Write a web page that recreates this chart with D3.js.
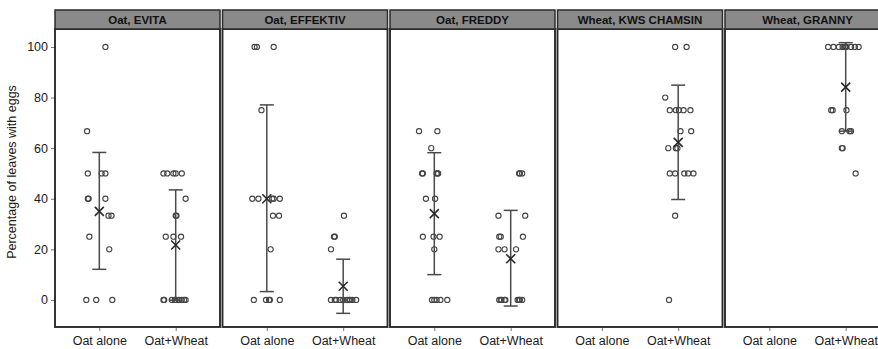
<!DOCTYPE html>
<html>
<head>
<meta charset="utf-8">
<script src="https://cdn.jsdelivr.net/npm/d3@7"></script>
<style>
  body { margin: 0; background: #fff; }
  svg { font-family: 'Liberation Sans', Arial, sans-serif; }
</style>
</head>
<body>
<div id="chart"></div>
<script>
// facet titles and groups
const panels = ['Oat, EVITA', 'Oat, EFFEKTIV', 'Oat, FREDDY', 'Wheat, KWS CHAMSIN', 'Wheat, GRANNY'];
const groups = ['Oat alone', 'Oat+Wheat'];
const yTicks = [0, 20, 40, 60, 80, 100];

// raw points: [value, jitter (fraction of category step)]
const evitaAlone = [[100, 0.08], [66.7, -0.16], [50, -0.15], [50, 0.03], [50, 0.08], [40, -0.15], [40, -0.14], [40, 0.08],
  [33.3, 0.12], [33.3, 0.16], [25, -0.13], [20, 0.13], [0, -0.17], [0, -0.04], [0, 0.17]];
const evitaMixed = [[50, -0.16], [50, -0.11], [50, -0.03], [50, 0], [50, 0.08], [40, 0.13], [33.3, 0], [33.3, 0.01],
  [25, -0.13], [25, -0.03], [25, 0.07], [0, -0.16], [0, -0.15], [0, -0.05], [0, -0.01], [0, 0], [0, 0.04], [0, 0.08],
  [0, 0.11], [0, 0.13]];
const effektivAlone = [[100, -0.16], [100, -0.13], [100, 0.09], [75, -0.07], [40, -0.19], [40, -0.11], [40, 0.07],
  [40, 0.09], [40, 0.17], [33.3, 0.08], [33.3, 0.16], [20, 0.05], [0, -0.17], [0, -0.01], [0, 0.03], [0, 0.04], [0, 0.17]];
const effektivMixed = [[33.3, 0.01], [25, -0.12], [25, -0.11], [20, -0.16], [0, -0.16], [0, -0.11], [0, -0.09],
  [0, -0.04], [0, 0], [0, 0.05], [0, 0.08], [0, 0.09], [0, 0.12], [0, 0.17]];
const freddyAlone = [[66.7, -0.2], [66.7, 0.04], [60, -0.04], [50, -0.16], [50, -0.15], [50, 0.03], [50, 0.04], [50, 0.05],
  [40, -0.11], [40, 0.01], [25, -0.15], [25, -0.01], [25, 0.07], [20, 0], [0, -0.03], [0, 0], [0, 0.03], [0, 0.08], [0, 0.17]];
const freddyMixed = [[50, 0.11], [50, 0.12], [50, 0.15], [33.3, -0.16], [33.3, 0.19], [25, -0.15], [25, -0.13], [25, 0.16],
  [20, -0.16], [20, -0.08], [20, 0.07], [0, -0.15], [0, -0.13], [0, -0.12], [0, -0.08], [0, -0.07], [0, 0.09], [0, 0.11],
  [0, 0.12], [0, 0.15]];
const chamsinMixed = [[100, -0.04], [100, 0.11], [80, -0.17], [75, -0.11], [75, -0.03], [75, 0.01], [75, 0.07], [75, 0.16],
  [66.7, 0.03], [66.7, 0.17], [60, -0.13], [60, -0.03], [60, -0.01], [50, -0.11], [50, -0.04], [50, 0.08], [50, 0.13],
  [50, 0.2], [33.3, -0.04], [0, -0.12]];
const grannyMixed = [[100, -0.23], [100, -0.16], [100, -0.09], [100, -0.04], [100, -0.01], [100, 0], [100, 0.01],
  [100, 0.07], [100, 0.12], [100, 0.17], [75, -0.19], [75, -0.17], [75, 0.01], [66.7, -0.05], [66.7, 0.05], [66.7, 0.07],
  [60, -0.05], [60, -0.04], [50, 0.13]];

const pointSets = [
  [evitaAlone, evitaMixed],
  [effektivAlone, effektivMixed],
  [freddyAlone, freddyMixed],
  [[], chamsinMixed],
  [[], grannyMixed]
];

// mean and error bar ends per panel, per group
const means = [[35.0, 21.7], [40.0, 5.4], [34.1, 16.3], [null, 62.3], [null, 84.1]];
const lowers = [[12.1, -0.1], [3.3, -5.3], [10.0, -2.4], [null, 39.7], [null, 66.7]];
const uppers = [[58.3, 43.5], [77.1, 16.1], [58.2, 35.4], [null, 84.9], [null, 101.7]];

const width = 878, height = 349;
const panelLeft = 55, panelStep = 167.5, panelW = 165;
const stripTop = 10, stripH = 19, plotBottom = 327;
const plotTop = stripTop + stripH;

const svg = d3.select('#chart').append('svg')
  .attr('width', width)
  .attr('height', height);

const y = d3.scaleLinear().domain([-10.7, 107.1]).range([plotBottom, plotTop]);
const x = d3.scalePoint().domain(groups).range([0, panelW]).padding(0.58);
const step = x.step();

// y axis title
svg.append('text')
  .attr('transform', 'translate(16,' + ((plotTop + plotBottom) / 2 - 6) + ') rotate(-90)')
  .attr('text-anchor', 'middle')
  .style('font-size', '12.5px')
  .style('fill', '#1a1a1a')
  .text('Percentage of leaves with eggs');

// y axis on first panel
svg.append('g')
  .attr('transform', 'translate(' + panelLeft + ',0)')
  .call(d3.axisLeft(y).tickValues(yTicks).tickSize(4).tickPadding(3))
  .call(g => g.select('.domain').remove())
  .call(g => g.selectAll('.tick line').attr('stroke', '#777'))
  .call(g => g.selectAll('.tick text').style('font-size', '12.5px').style('fill', '#1a1a1a'));

panels.forEach((name, i) => {
  const g = svg.append('g')
    .attr('transform', 'translate(' + (panelLeft + i * panelStep) + ',0)');

  // x axis
  g.append('g')
    .attr('transform', 'translate(0,' + plotBottom + ')')
    .call(d3.axisBottom(x).tickSize(4).tickPadding(5))
    .call(ax => ax.select('.domain').remove())
    .call(ax => ax.selectAll('.tick line').attr('stroke', '#777'))
    .call(ax => ax.selectAll('.tick text').style('font-size', '12.5px').style('fill', '#1a1a1a'));

  // panel box
  g.append('rect')
    .attr('x', 0)
    .attr('y', plotTop)
    .attr('width', panelW)
    .attr('height', plotBottom - plotTop)
    .attr('fill', '#fff')
    .attr('stroke', '#2a2a2a')
    .attr('stroke-width', 1.9);

  // strip
  g.append('rect')
    .attr('x', 0)
    .attr('y', stripTop)
    .attr('width', panelW)
    .attr('height', stripH)
    .attr('fill', '#8a8a8a')
    .attr('stroke', '#2a2a2a')
    .attr('stroke-width', 1.5);
  g.append('text')
    .attr('x', panelW / 2)
    .attr('y', stripTop + stripH / 2)
    .attr('dy', '0.36em')
    .attr('text-anchor', 'middle')
    .style('font-size', '11.5px')
    .style('font-weight', 'bold')
    .style('fill', '#111')
    .text(name);

  groups.forEach((grp, j) => {
    const cx = x(grp);

    // points
    g.append('g')
      .selectAll('circle')
      .data(pointSets[i][j])
      .enter()
      .append('circle')
      .attr('cx', d => cx + d[1] * step)
      .attr('cy', d => y(d[0]))
      .attr('r', 2.6)
      .attr('fill', 'none')
      .attr('stroke', '#444')
      .attr('stroke-width', 1.1);

    if (means[i][j] === null) return;

    const lo = y(lowers[i][j]), hi = y(uppers[i][j]), m = y(means[i][j]);
    const eb = g.append('g').attr('stroke', '#4a4a4a').attr('stroke-width', 1.5);
    eb.append('line').attr('x1', cx).attr('x2', cx).attr('y1', lo).attr('y2', hi);
    eb.append('line').attr('x1', cx - 7).attr('x2', cx + 7).attr('y1', lo).attr('y2', lo);
    eb.append('line').attr('x1', cx - 7).attr('x2', cx + 7).attr('y1', hi).attr('y2', hi);

    // mean cross
    const mk = g.append('g').attr('stroke', '#2a2a2a').attr('stroke-width', 1.6);
    mk.append('line').attr('x1', cx - 4.5).attr('x2', cx + 4.5).attr('y1', m - 4.5).attr('y2', m + 4.5);
    mk.append('line').attr('x1', cx - 4.5).attr('x2', cx + 4.5).attr('y1', m + 4.5).attr('y2', m - 4.5);
  });
});
</script>
</body>
</html>
